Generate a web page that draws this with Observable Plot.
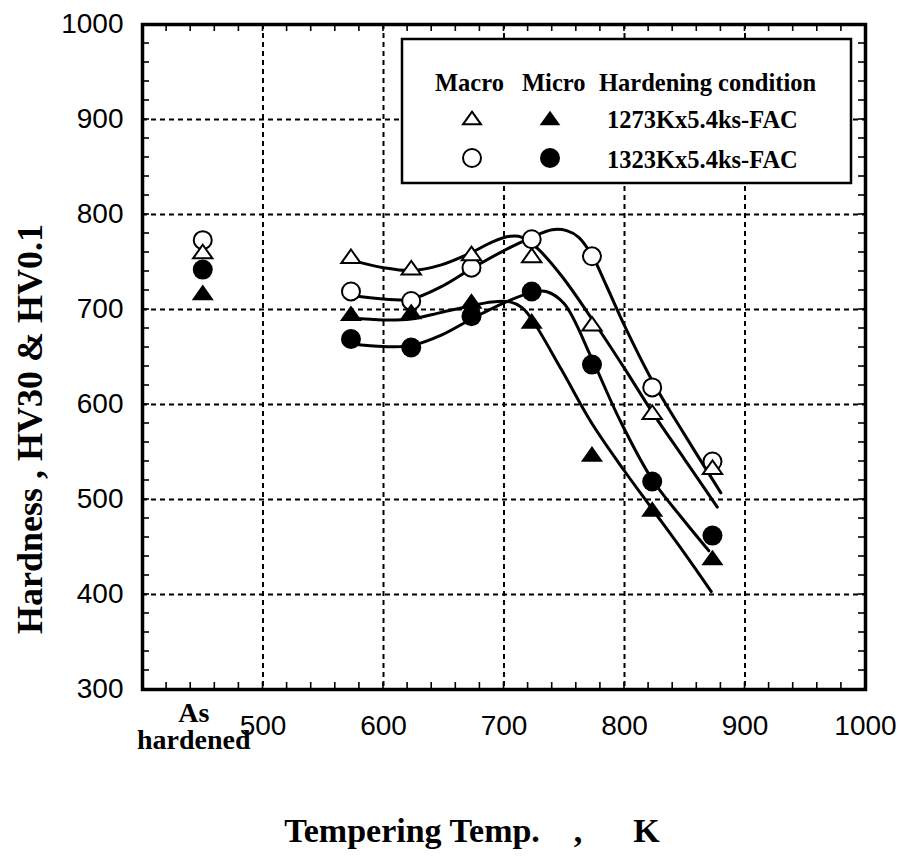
<!DOCTYPE html>
<html>
<head>
<meta charset="utf-8">
<script src="https://cdn.jsdelivr.net/npm/d3@7"></script>
<script src="https://cdn.jsdelivr.net/npm/@observablehq/plot@0.6"></script>
<style>
  body { margin: 0; background: #fff; }
</style>
</head>
<body>
<div id="chart"></div>
<script>
// Tempering temperatures (K) and hardness readings
const temps = [573, 623, 673, 723, 773, 823, 873];
const asHardenedTemp = 450; // column used for the as-hardened state
const macro1273 = [756, 744, 759, 757, 685, 592, 534];
const macro1323 = [719, 709, 744, 774, 756, 618, 540];
const micro1273 = [696, 698, 709, 688, 548, 490, 439];
const micro1323 = [669, 660, 693, 719, 642, 519, 462];
const asHardenedMacro1273 = 761;
const asHardenedMacro1323 = 773;
const asHardenedMicro1273 = 718;
const asHardenedMicro1323 = 742;

// Hand-drawn trend curves, knots as [T, HV]
const fitMacro1273 = [[573, 752], [600, 744], [623, 741], [648, 747], [673, 760], [690, 771], [705, 777], [715, 776], [728, 764], [748, 735], [773, 690], [800, 638], [823, 592], [850, 542], [877, 492]];
const fitMacro1323 = [[573, 715], [600, 711], [623, 711], [648, 724], [673, 743], [700, 762], [723, 776], [740, 784], [752, 783], [762, 776], [773, 757], [785, 725], [800, 683], [823, 625], [850, 568], [880, 507]];
const fitMicro1273 = [[573, 691], [600, 689], [623, 690], [648, 697], [673, 704], [690, 708], [705, 708], [715, 702], [723, 690], [748, 636], [773, 580], [800, 530], [823, 490], [850, 443], [872, 403]];
const fitMicro1323 = [[573, 664], [600, 661], [623, 662], [648, 673], [673, 690], [700, 707], [723, 718], [735, 719], [750, 706], [773, 648], [796, 584], [823, 521], [848, 480], [870, 446]];

// Axis ticks and texts
const xTicks = [500, 600, 700, 800, 900, 1000];
const yTicks = [300, 400, 500, 600, 700, 800, 900, 1000];
const xGrid = [500, 600, 700, 800, 900];
const yGrid = [400, 500, 600, 700, 800, 900];
const xMinor = d3.range(400, 1001, 20);
const yMinor = d3.range(300, 1001, 20);
const asHardenedLabel = "As\nhardened";
const xTitle = "Tempering Temp.\u00a0\u00a0\u00a0\u00a0,\u00a0\u00a0\u00a0\u00a0\u00a0\u00a0K";
const yTitle = "Hardness , HV30 & HV0.1";
const legendHeaders = ["Macro", "Micro", "Hardening condition"];
const legendConditions = ["1273Kx5.4ks-FAC", "1323Kx5.4ks-FAC"];

const serif = "'Liberation Serif', 'Times New Roman', serif";
const sans = "'Liberation Sans', Arial, sans-serif";

// Layout
const W = 901, H = 856;
const mL = 142, mR = 36, mT = 24, mB = 167;
const tickLen = 7;

// Wide, flat triangle marker
const flatTriangle = {
  draw(ctx, size) {
    const s = Math.sqrt(size);
    const hw = s * 0.78, hh = s * 0.55;
    ctx.moveTo(0, -hh);
    ctx.lineTo(hw, hh);
    ctx.lineTo(-hw, hh);
    ctx.closePath();
  }
};

const rows = (asH, vals) => [{t: asHardenedTemp, hv: asH}, ...temps.map((t, i) => ({t, hv: vals[i]}))];
const ptsMacro1273 = rows(asHardenedMacro1273, macro1273);
const ptsMacro1323 = rows(asHardenedMacro1323, macro1323);
const ptsMicro1273 = rows(asHardenedMicro1273, micro1273);
const ptsMicro1323 = rows(asHardenedMicro1323, micro1323);

const curve = (knots) => Plot.line(knots, {x: d => d[0], y: d => d[1], curve: "catmull-rom", stroke: "black", strokeWidth: 3});

const chart = Plot.plot({
  width: W,
  height: H,
  marginLeft: mL,
  marginRight: mR,
  marginTop: mT,
  marginBottom: mB,
  style: {background: "white", color: "black", fontFamily: sans},
  x: {domain: [400, 1000], axis: null},
  y: {domain: [300, 1000], axis: null},
  marks: [
    Plot.gridX(xGrid, {stroke: "black", strokeOpacity: 1, strokeWidth: 2, strokeDasharray: "5,4"}),
    Plot.gridY(yGrid, {stroke: "black", strokeOpacity: 1, strokeWidth: 2, strokeDasharray: "5,4"}),
    // tick labels
    Plot.axisX(xTicks, {anchor: "bottom", tickSize: 0, tickPadding: 26, fontSize: 28, fontFamily: sans, tickFormat: d => String(d), label: null}),
    Plot.axisY(yTicks, {anchor: "left", tickSize: 0, tickPadding: 19, fontSize: 28, fontFamily: sans, tickFormat: d => String(d), label: null}),
    Plot.frame({stroke: "black", strokeWidth: 3.5}),
    // trend curves
    curve(fitMacro1273),
    curve(fitMacro1323),
    curve(fitMicro1273),
    curve(fitMicro1323),
    // measured points
    Plot.dot(ptsMacro1323, {x: "t", y: "hv", r: 9, fill: "white", stroke: "black", strokeWidth: 2}),
    Plot.dot(ptsMacro1273, {x: "t", y: "hv", r: 7, symbol: flatTriangle, fill: "white", stroke: "black", strokeWidth: 2}),
    Plot.dot(ptsMicro1323, {x: "t", y: "hv", r: 10, fill: "black", stroke: "none"}),
    Plot.dot(ptsMicro1273, {x: "t", y: "hv", r: 8, symbol: flatTriangle, fill: "black", stroke: "none"}),
    // texts
    Plot.text([asHardenedLabel], {x: asHardenedTemp, frameAnchor: "bottom", dx: -9, dy: 59, textAnchor: "middle", lineAnchor: "bottom", lineHeight: 0.93, fontSize: 28, fontWeight: "bold", fontFamily: serif, fill: "black"}),
    Plot.text([xTitle], {frameAnchor: "bottom", dx: -32, dy: 152, textAnchor: "middle", lineAnchor: "bottom", fontSize: 34, fontWeight: "bold", fontFamily: serif, fill: "black"}),
    Plot.text([yTitle], {frameAnchor: "left", rotate: -90, dx: -112, dy: 72, textAnchor: "middle", lineAnchor: "middle", fontSize: 36, fontWeight: "bold", fontFamily: serif, fill: "black"})
  ]
});

document.getElementById("chart").appendChild(chart);

const svg = d3.select(chart);
const xs = chart.scale("x"), ys = chart.scale("y");
const frameLeft = mL, frameRight = W - mR, frameTop = mT, frameBottom = H - mB;

// Inward minor ticks on all four sides, placed with the plot's own scales
const tk = svg.append("g").attr("stroke", "black").attr("stroke-width", 1.6);
xMinor.forEach(v => {
  const px = xs.apply(v);
  tk.append("line").attr("x1", px).attr("x2", px).attr("y1", frameBottom).attr("y2", frameBottom - tickLen);
  tk.append("line").attr("x1", px).attr("x2", px).attr("y1", frameTop).attr("y2", frameTop + tickLen);
});
yMinor.forEach(v => {
  const py = ys.apply(v);
  tk.append("line").attr("y1", py).attr("y2", py).attr("x1", frameLeft).attr("x2", frameLeft + tickLen);
  tk.append("line").attr("y1", py).attr("y2", py).attr("x1", frameRight).attr("x2", frameRight - tickLen);
});

// Legend box inside the plot area
const lg = svg.append("g")
  .attr("font-family", serif).attr("font-weight", "bold").attr("fill", "black")
  .attr("text-anchor", "start");
lg.append("rect").attr("x", 402).attr("y", 39).attr("width", 449).attr("height", 144)
  .attr("fill", "white").attr("stroke", "black").attr("stroke-width", 2.5);
const headerX = [435, 522, 599];
legendHeaders.forEach((h, i) => {
  lg.append("text").attr("x", headerX[i]).attr("y", 91).attr("font-size", 24.5).attr("text-anchor", "start").text(h);
});
const rowY = [118, 158];
const macroX = 472, microX = 550;
const triPath = d3.symbol().type(flatTriangle);
// row 1: triangles
lg.append("path").attr("transform", `translate(${macroX},${rowY[0]})`).attr("d", triPath.size(6.5 * 6.5 * Math.PI)())
  .attr("fill", "white").attr("stroke", "black").attr("stroke-width", 2);
lg.append("path").attr("transform", `translate(${microX},${rowY[0]})`).attr("d", triPath.size(7.5 * 7.5 * Math.PI)())
  .attr("fill", "black");
// row 2: circles
lg.append("circle").attr("cx", macroX).attr("cy", rowY[1]).attr("r", 9).attr("fill", "white").attr("stroke", "black").attr("stroke-width", 2);
lg.append("circle").attr("cx", microX).attr("cy", rowY[1]).attr("r", 10).attr("fill", "black");
legendConditions.forEach((c, i) => {
  lg.append("text").attr("x", 607).attr("y", rowY[i] + 10).attr("font-size", 24.5).attr("text-anchor", "start").text(c);
});
</script>
</body>
</html>
